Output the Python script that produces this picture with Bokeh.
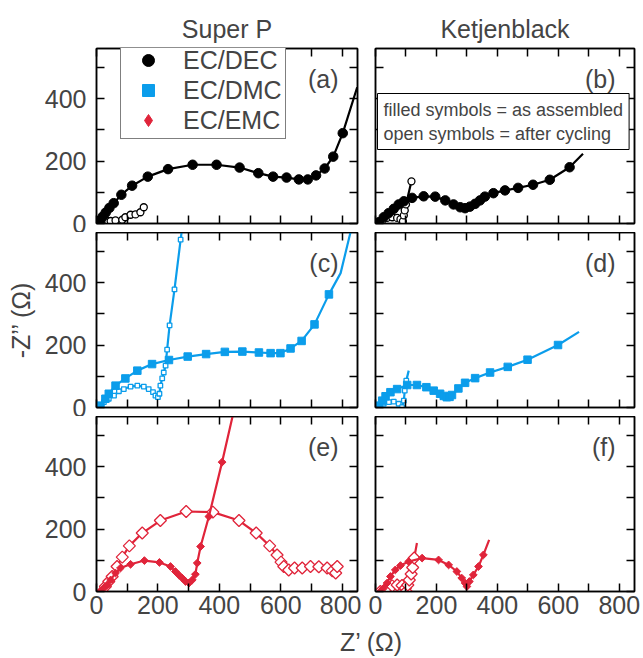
import numpy as np
from bokeh.plotting import figure
from bokeh.models import Range1d, LinearAxis, FixedTicker, Label, Legend, LegendItem
from bokeh.layouts import column, row
from bokeh.embed import file_html
from bokeh.resources import INLINE

FONT = "Liberation Sans"
BLACK = "#000000"
BLUE = "#0B9DEB"
RED = "#E0243A"

column_titles = ["Super P", "Ketjenblack"]
panel_tags = ["(a)", "(b)", "(c)", "(d)", "(e)", "(f)"]
series_names = ["EC/DEC", "EC/DMC", "EC/EMC"]
note_text = "filled symbols = as assembled\nopen symbols = after cycling"
x_axis_title = "Z\u2019 (\u03a9)"
y_axis_title = "-Z\u2019\u2019 (\u03a9)"
x_major_ticks = [0, 200, 400, 600, 800]
x_all_ticks = [0, 100, 200, 300, 400, 500, 600, 700, 800]
y_major_ticks = [0, 200, 400]
y_all_ticks = [0, 100, 200, 300, 400, 500]
x_limits = (0, 850)
y_limits = (0, 560)

# (a) Super P, EC/DEC
a_fill_x = [5, 12, 20, 30, 42, 56, 81, 116, 167, 233, 313, 391, 466, 527, 575, 619, 659, 688, 715, 743, 771, 802]
a_fill_y = [2, 10, 22, 35, 50, 65, 92, 121, 150, 174, 188, 188, 179, 161, 150, 147, 141, 141, 154, 176, 214, 289]
a_fill_tail_x = [849]
a_fill_tail_y = [436]
a_open_x = [5, 10, 18, 28, 38, 46, 62, 84, 94, 111, 127, 143, 154]
a_open_y = [2, 4, 6, 7, 8, 8, 10, 12, 20, 28, 29, 36, 52]
a_open_tail_x = []
a_open_tail_y = []

# (b) Ketjenblack, EC/DEC
b_fill_x = [11, 27, 43, 60, 76, 93, 120, 158, 196, 229, 256, 278, 294, 310, 327, 343, 359, 387, 425, 468, 517, 572, 637]
b_fill_y = [4, 20, 33, 47, 61, 71, 82, 87, 86, 74, 61, 52, 49, 54, 63, 74, 86, 97, 106, 114, 124, 140, 180]
b_fill_tail_x = [681]
b_fill_tail_y = [223]
b_open_x = [5, 12, 22, 38, 55, 71, 82, 90, 93, 96, 100, 118]
b_open_y = [1, 5, 10, 18, 20, 18, 14, 7, 26, 42, 61, 135]
b_open_tail_x = []
b_open_tail_y = []

# (c) Super P, EC/DMC
c_fill_x = [13, 29, 40, 62, 94, 133, 181, 236, 297, 357, 418, 475, 529, 567, 599, 632, 668, 710, 757]
c_fill_y = [6, 28, 44, 70, 93, 118, 139, 152, 163, 171, 178, 179, 176, 174, 174, 189, 213, 266, 362]
c_fill_tail_x = [795, 827]
c_fill_tail_y = [430, 560]
c_open_x = [8, 24, 40, 57, 73, 89, 111, 133, 154, 170, 184, 192, 200, 205, 208, 214, 219, 225, 230, 238, 254, 274]
c_open_y = [6, 17, 28, 38, 52, 59, 67, 70, 67, 59, 49, 38, 33, 44, 70, 93, 112, 134, 185, 263, 378, 537]
c_open_tail_x = [277]
c_open_tail_y = [560]

# (d) Ketjenblack, EC/DMC
d_fill_x = [11, 22, 33, 49, 71, 104, 136, 167, 191, 212, 224, 234, 243, 251, 272, 294, 327, 376, 434, 499, 599]
d_fill_y = [6, 22, 36, 49, 59, 72, 72, 65, 54, 44, 37, 33, 34, 40, 61, 79, 94, 112, 130, 153, 200]
d_fill_tail_x = [668]
d_fill_tail_y = [242]
d_open_x = [8, 27, 44, 60, 76, 87, 93, 96, 101]
d_open_y = [3, 12, 17, 19, 12, 1, 22, 54, 86]
d_open_tail_x = [109]
d_open_tail_y = [118]

# (e) Super P, EC/EMC
e_fill_x = [13, 24, 35, 46, 62, 78, 111, 156, 205, 241, 257, 268, 279, 290, 301, 312, 322, 328, 339, 366, 409]
e_fill_y = [0, 11, 21, 37, 59, 75, 87, 99, 93, 80, 64, 53, 43, 32, 27, 37, 55, 91, 144, 240, 414]
e_fill_tail_x = [443]
e_fill_tail_y = [560]
e_open_x = [19, 29, 40, 51, 67, 84, 107, 149, 208, 292, 379, 464, 520, 564, 588, 601, 610, 626, 645, 670, 697, 724, 751, 768, 779, 784]
e_open_y = [0, 16, 32, 48, 80, 110, 146, 187, 227, 256, 254, 227, 187, 146, 117, 94, 80, 69, 75, 75, 80, 79, 75, 66, 59, 80]
e_open_tail_x = []
e_open_tail_y = []

# (f) Ketjenblack, EC/EMC
f_fill_x = [16, 27, 38, 49, 65, 82, 109, 153, 207, 240, 267, 283, 294, 300, 308, 321, 338, 354]
f_fill_y = [0, 11, 27, 48, 69, 83, 96, 107, 101, 85, 64, 43, 27, 16, 32, 53, 80, 117]
f_fill_tail_x = [373]
f_fill_tail_y = [165]
f_open_x = [16, 38, 55, 71, 87, 98, 101, 106, 111, 117, 122, 127]
f_open_y = [0, 11, 18, 21, 19, 11, 0, 21, 37, 56, 77, 107]
f_open_tail_x = [136]
f_open_tail_y = [155]

# layout geometry (pixels) -- page has no margin in Bokeh's template
FW = [261, 259]
FH = [175, 175, 175]
BL = [96, 14]
BR = [4, 7]
BT = [48, 0, 0]
BB = [9, 9, 34]

STYLE = {
    "circle": dict(fill_size=9.5, open_size=7, angle=0.0),
    "square": dict(fill_size=7.5, open_size=4.5, angle=0.0),
    "diamond": dict(fill_size=5.5, open_size=8.5, angle=np.pi / 4),
}
NO_POS = [float("nan")]  # legend proxies carry no position


def make_axis(is_x, labelled):
    major = x_major_ticks if is_x else y_major_ticks
    alls = x_all_ticks if is_x else y_all_ticks
    if labelled:
        ticker = FixedTicker(ticks=major, minor_ticks=[t for t in alls if t not in major])
    else:
        ticker = FixedTicker(ticks=[], minor_ticks=alls)
    ax = LinearAxis(ticker=ticker, major_tick_in=8, major_tick_out=0,
                    minor_tick_in=8, minor_tick_out=0,
                    major_tick_line_width=1.5, minor_tick_line_width=1.5,
                    axis_line_width=1.5,
                    major_label_text_font=FONT, major_label_text_font_size="25px",
                    major_label_standoff=(4 if is_x else 10) if labelled else 0)
    return ax


def make_panel(c, r):
    kw = {"title": column_titles[c] if r == 0 else None}
    p = figure(width=BL[c] + FW[c] + BR[c], height=BT[r] + FH[r] + BB[r],
               x_range=Range1d(*x_limits), y_range=Range1d(*y_limits),
               x_axis_location=None, y_axis_location=None,
               toolbar_location=None, output_backend="svg",
               min_border_left=BL[c], min_border_right=BR[c],
               min_border_top=BT[r], min_border_bottom=BB[r],
               outline_line_color="black", outline_line_width=1.5,
               background_fill_color="white", border_fill_color="white", **kw)
    p.grid.visible = False
    if r == 0:
        p.title.align = "center"
        p.title.text_font = FONT
        p.title.text_font_size = "25px"
        p.title.text_font_style = "normal"
        p.title.standoff = 11
    left = make_axis(False, c == 0)
    if c == 0 and r == 1:
        left.axis_label = y_axis_title
        left.axis_label_text_font = FONT
        left.axis_label_text_font_size = "25px"
        left.axis_label_text_font_style = "normal"
        left.axis_label_standoff = 7
    p.add_layout(left, "left")
    p.add_layout(make_axis(False, False), "right")
    p.add_layout(make_axis(True, False), "above")
    p.add_layout(make_axis(True, r == 2), "below")
    p.add_layout(Label(x=FW[c] - 19, y=FH[r] - 30, x_units="screen", y_units="screen",
                       text=panel_tags[r * 2 + c], text_align="right", text_baseline="middle",
                       text_font=FONT, text_font_size="25px"))
    return p


def add_series(p, xs, ys, tx, ty, color, marker, filled):
    st = STYLE[marker]
    mk = "square" if marker == "diamond" else marker
    p.line(list(xs) + list(tx), list(ys) + list(ty), line_color=color, line_width=2.2, line_join="round")
    return p.scatter(xs, ys, marker=mk, angle=st["angle"],
                     size=st["fill_size"] if filled else st["open_size"],
                     line_color=color, line_width=1.0 if filled else 1.3,
                     fill_color=color if filled else "white")


panel_data = [
    (0, 0, BLACK, "circle", a_fill_x, a_fill_y, a_fill_tail_x, a_fill_tail_y, a_open_x, a_open_y, a_open_tail_x, a_open_tail_y),
    (1, 0, BLACK, "circle", b_fill_x, b_fill_y, b_fill_tail_x, b_fill_tail_y, b_open_x, b_open_y, b_open_tail_x, b_open_tail_y),
    (0, 1, BLUE, "square", c_fill_x, c_fill_y, c_fill_tail_x, c_fill_tail_y, c_open_x, c_open_y, c_open_tail_x, c_open_tail_y),
    (1, 1, BLUE, "square", d_fill_x, d_fill_y, d_fill_tail_x, d_fill_tail_y, d_open_x, d_open_y, d_open_tail_x, d_open_tail_y),
    (0, 2, RED, "diamond", e_fill_x, e_fill_y, e_fill_tail_x, e_fill_tail_y, e_open_x, e_open_y, e_open_tail_x, e_open_tail_y),
    (1, 2, RED, "diamond", f_fill_x, f_fill_y, f_fill_tail_x, f_fill_tail_y, f_open_x, f_open_y, f_open_tail_x, f_open_tail_y),
]

figs = {}
filled_renderers = {}
for (c, r, color, marker, fx, fy, ftx, fty, ox, oy, otx, oty) in panel_data:
    p = make_panel(c, r)
    add_series(p, ox, oy, otx, oty, color, marker, False)
    rf = add_series(p, fx, fy, ftx, fty, color, marker, True)
    figs[(c, r)] = p
    filled_renderers[(c, r)] = rf

# legend in panel (a)
pa = figs[(0, 0)]
leg_dmc = pa.scatter(NO_POS, NO_POS, marker="square", size=8, color=BLUE)
leg_emc = pa.scatter(NO_POS, NO_POS, marker="diamond", size=8, color=RED)
legend = Legend(items=[LegendItem(label=series_names[0], renderers=[filled_renderers[(0, 0)]]),
                       LegendItem(label=series_names[1], renderers=[leg_dmc]),
                       LegendItem(label=series_names[2], renderers=[leg_emc])],
                location=(24, 84), orientation="vertical",
                label_text_font=FONT, label_text_font_size="25px",
                glyph_width=48, glyph_height=30, label_height=28, label_standoff=11,
                padding=3, spacing=-3, margin=0,
                border_line_color="black", border_line_width=1.2,
                background_fill_color="white", background_fill_alpha=1.0)
pa.add_layout(legend)

# note box in panel (b)
pb = figs[(1, 0)]
pb.add_layout(Label(x=2, y=FH[0] - 45, x_units="screen", y_units="screen",
                    text=note_text, text_align="left", text_baseline="top",
                    text_font=FONT, text_font_size="18px",
                    border_line_color="black", border_line_width=1,
                    background_fill_color="white", padding=6))

# x axis title strip
total_w = BL[0] + FW[0] + BR[0] + BL[1] + FW[1] + BR[1]
xt = figure(width=total_w, height=32, x_range=Range1d(0, 1), y_range=Range1d(0, 1),
            x_axis_location=None, y_axis_location=None, toolbar_location=None,
            output_backend="svg", min_border=0, outline_line_color=None, title=None)
xt.grid.visible = False
xt.add_layout(Label(x=371, y=16, x_units="screen", y_units="screen", text=x_axis_title,
                    text_align="center", text_baseline="middle",
                    text_font=FONT, text_font_size="25px"))

layout = column(row(figs[(0, 0)], figs[(1, 0)]),
                row(figs[(0, 1)], figs[(1, 1)]),
                row(figs[(0, 2)], figs[(1, 2)]),
                xt)

open("out.html", "w").write(file_html(layout, INLINE))
